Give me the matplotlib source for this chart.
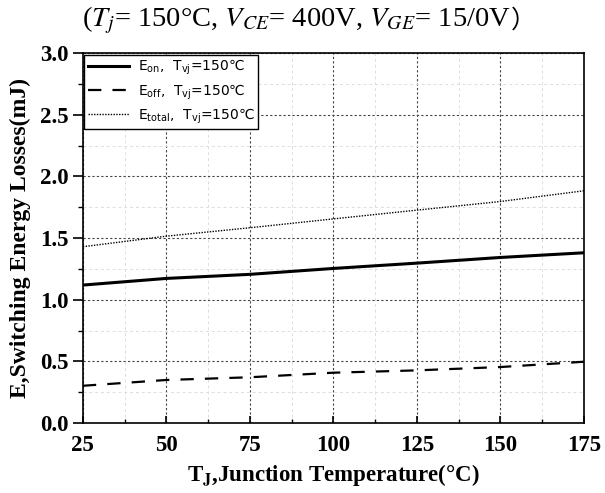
import matplotlib
matplotlib.use("Agg")
import matplotlib.pyplot as plt
from matplotlib.ticker import MultipleLocator, FormatStrFormatter
from matplotlib.font_manager import FontProperties

# values
tj = [25, 50, 75, 100, 125, 150, 175]
e_on = [1.119, 1.173, 1.206, 1.254, 1.297, 1.343, 1.381]
e_off = [0.302, 0.349, 0.371, 0.408, 0.427, 0.454, 0.497]
e_total = [1.430, 1.516, 1.584, 1.656, 1.727, 1.797, 1.884]

labels = ["E$_\\mathrm{on}$,  T$_\\mathrm{vj}$=150\u2103",
          "E$_\\mathrm{off}$,  T$_\\mathrm{vj}$=150\u2103",
          "E$_\\mathrm{total}$,  T$_\\mathrm{vj}$=150\u2103"]

fig = plt.figure(figsize=(6.05, 4.93), dpi=100)
ax = fig.add_axes([0.137, 0.142, 0.828, 0.750])

ax.plot(tj, e_on, color='black', lw=2.2, label=labels[0])
ax.plot(tj, e_off, color='black', lw=1.6, ls=(0, (6, 5)), label=labels[1])
ax.plot(tj, e_total, color='black', lw=1.0, ls=(0, (1, 1)), label=labels[2])

ax.set_xlim(25, 175)
ax.set_ylim(0, 3.0)
ax.xaxis.set_major_locator(MultipleLocator(25))
ax.xaxis.set_minor_locator(MultipleLocator(12.5))
ax.yaxis.set_major_locator(MultipleLocator(0.5))
ax.yaxis.set_minor_locator(MultipleLocator(0.25))
ax.yaxis.set_major_formatter(FormatStrFormatter('%.1f'))
ax.grid(which='major', color='#444444', ls=(0, (2, 2)), lw=0.8)
ax.grid(which='minor', color='#dddddd', ls=(0, (3, 3)), lw=0.7)
ax.set_axisbelow(True)

for s in ax.spines.values():
    s.set_linewidth(1.2)
ax.tick_params(axis='y', which='major', direction='out', length=7, width=1.2)
ax.tick_params(axis='y', which='minor', direction='out', length=3.5, width=1.0)
ax.tick_params(axis='x', which='major', direction='in', length=5, width=1.2, pad=9)
ax.tick_params(axis='x', which='minor', direction='in', length=3, width=1.0)
ax.tick_params(top=False, right=False)

for lab in ax.get_xticklabels() + ax.get_yticklabels():
    lab.set_fontfamily('Liberation Serif')
    lab.set_fontweight('bold')
    lab.set_fontsize(16.5)

ax.set_xlabel("T$_\\mathbf{J}$,Junction Temperature(\u00b0C)", family='Liberation Serif',
              fontweight='bold', fontsize=16.5, math_fontfamily='stix', labelpad=4)
ax.set_ylabel("E,Switching Energy Losses(mJ)", family='Liberation Serif',
              fontweight='bold', fontsize=17, labelpad=6)

leg_font = FontProperties(family='DejaVu Sans', size=10, math_fontfamily='dejavusans')
leg = ax.legend(loc='upper left', prop=leg_font,
                frameon=True, fancybox=False, edgecolor='black', framealpha=1,
                handlelength=3.0, borderpad=0.25, labelspacing=0.35,
                borderaxespad=0.1, handletextpad=0.6)
leg.get_frame().set_linewidth(1.0)

# title: main part in serif, the full-width closing paren from the CJK font
t = fig.text(0.136, 0.958, "($T_j$= 150\u00b0C, $V_{CE}$= 400V, $V_{GE}$= 15/0V",
             ha='left', va='center', fontsize=20.5, family='Liberation Serif',
             math_fontfamily='stix')
fig.canvas.draw()
bb = t.get_window_extent(fig.canvas.get_renderer())
fig.text(bb.x1 / fig.bbox.width, 0.958, "\uff09", ha='left', va='center',
         fontsize=18, family='Noto Sans CJK SC')

fig.savefig("out.png", dpi=100)
